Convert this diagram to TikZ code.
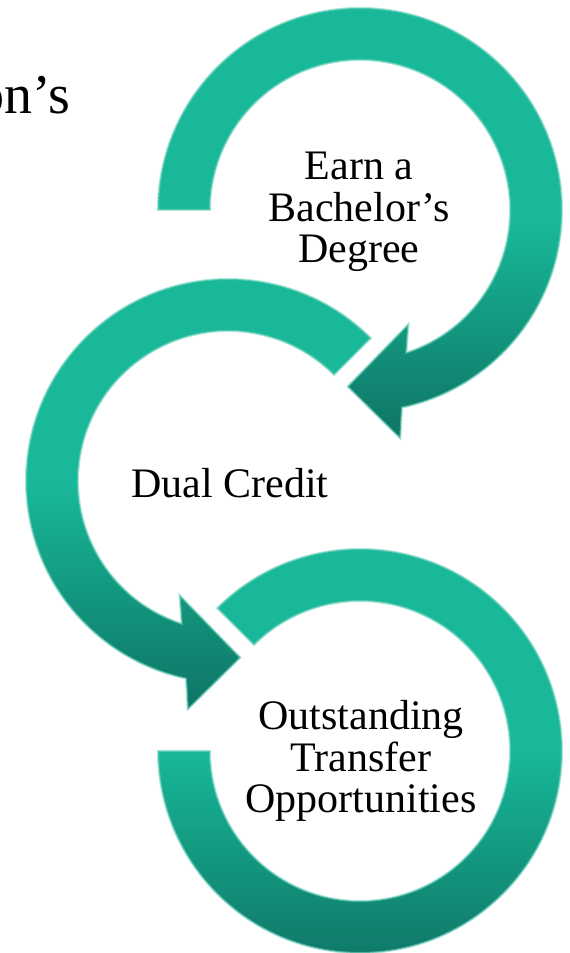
\documentclass[tikz,border=0pt]{standalone}
\usepackage{fontspec}
\setmainfont{Liberation Serif}
\definecolor{ringtop}{RGB}{24,184,152}
\definecolor{ringlow}{RGB}{14,116,100}
\definecolor{ringglow}{RGB}{120,212,192}
\begin{document}
\begin{tikzpicture}[x=1pt,y=1pt,
    ringfill/.style={top color=ringtop, bottom color=ringlow, middle color=ringtop,
      postaction={draw=ringglow, line width=2pt, opacity=.6}},
    steptext/.style={font=\fontsize{42}{41.5}\selectfont, align=center, inner sep=0pt}]
\useasboundingbox (0,0) rectangle (570,953);
\clip (0,0) rectangle (570,953);

% upper ring, arrow ends at the bottom
\shade[ringfill, shift={(360,743)}] (180:202) arc[start angle=180, end angle=-78, radius=202]
    -- (-80:232) -- (-94:177) -- (-67:124) -- (-72:150)
    arc[start angle=-72, end angle=180, radius=150] -- cycle;

% middle ring
\shade[ringfill, shift={(228,472)}] (45:202) arc[start angle=45, end angle=258, radius=202]
    -- (260:232) -- (274:177) -- (247:124) -- (252:150)
    arc[start angle=252, end angle=45, radius=150] -- cycle;

% lower ring, no arrow
\shade[ringfill, shift={(360,202)}] (135:202) arc[start angle=135, end angle=-180, radius=202]
    -- (180:150) arc[start angle=-180, end angle=135, radius=150] -- cycle;

\node[steptext] (earn) at (359,741) {Earn a\\Bachelor’s\\Degree};
\node[steptext] (dual) at (230,470) {Dual Credit};
\node[steptext] (transfer) at (361,192) {Outstanding\\Transfer\\Opportunities};
\node[font=\fontsize{56}{60}\selectfont, anchor=base east, inner sep=0pt] (title) at (70,839) {on’s};
\end{tikzpicture}
\end{document}
